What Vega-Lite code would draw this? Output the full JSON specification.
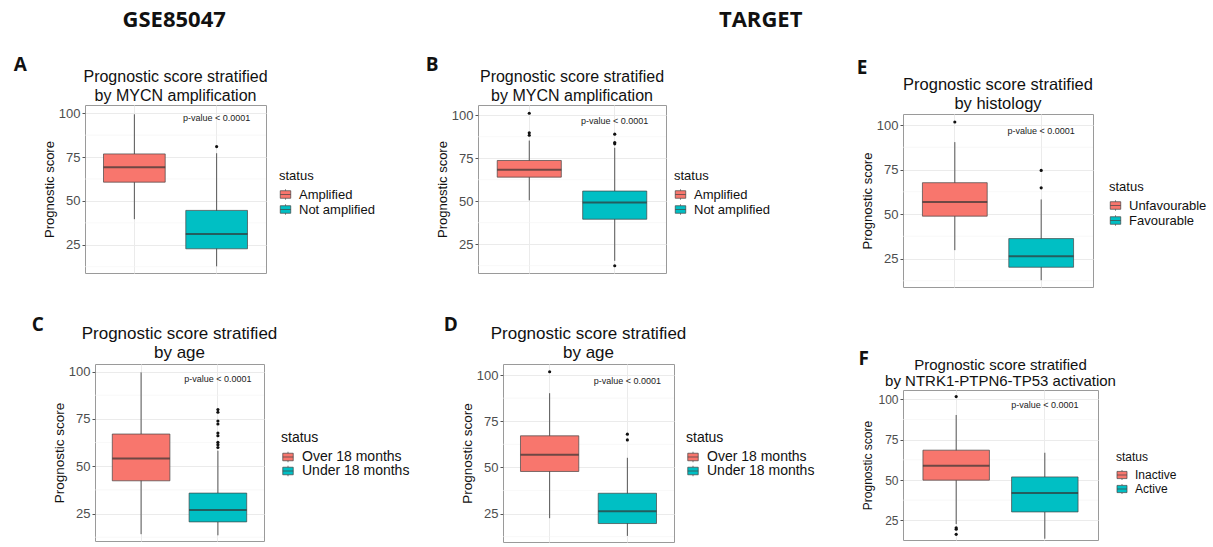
{
  "$schema": "https://vega.github.io/schema/vega-lite/v6.json",
  "padding": {"left": 13, "top": 8, "right": 2, "bottom": 0},
  "background": "white",
  "config": {
    "font": "Liberation Sans",
    "view": {"stroke": "#9a9a9a", "strokeWidth": 1},
    "axis": {"labelColor": "#4D4D4D", "labelFontSize": 13, "titleFontSize": 13, "titleFontWeight": "normal", "titleColor": "#111", "tickColor": "#555", "tickSize": 3, "domain": false, "gridColor": "#EBEBEB"},
    "title": {"fontSize": 16, "fontWeight": "normal", "color": "#111", "lineHeight": 19, "offset": 1},
    "legend": {"titleFontSize": 13, "titleFontWeight": "normal", "labelFontSize": 13, "titleColor": "#111", "labelColor": "#111", "symbolType": "M-1,-0.72H1V0.72H-1Z M-1,0H1 M0,-1V-0.72 M0,0.72V1", "symbolSize": 110, "symbolStrokeColor": "#444", "symbolStrokeWidth": 0.7, "rowPadding": 0, "titlePadding": 5, "labelOffset": 7}
  },
  "datasets": {
    "minor": [{"v": 12.5}, {"v": 37.5}, {"v": 62.5}, {"v": 87.5}],
    "blank": [{}],
    "A_box": [
      {"status": "Amplified", "lower": 39.6, "q1": 60.7, "median": 69.2, "q3": 76.8, "upper": 99.4},
      {"status": "Not amplified", "lower": 12.7, "q1": 22.7, "median": 31.1, "q3": 44.6, "upper": 77.2}
    ],
    "A_out": [{"status": "Not amplified", "score": 81.0}],
    "A_p": [{"status": "Not amplified", "y": 97.2, "label": "p-value < 0.0001"}],
    "B_box": [
      {"status": "Amplified", "lower": 50.5, "q1": 64.0, "median": 68.3, "q3": 73.7, "upper": 85.3},
      {"status": "Not amplified", "lower": 15.3, "q1": 39.5, "median": 49.2, "q3": 55.9, "upper": 81.1}
    ],
    "B_out": [
      {"status": "Amplified", "score": 101.2}, {"status": "Amplified", "score": 89.8}, {"status": "Amplified", "score": 88.4},
      {"status": "Not amplified", "score": 89.0}, {"status": "Not amplified", "score": 84.1}, {"status": "Not amplified", "score": 83.4}, {"status": "Not amplified", "score": 12.4}
    ],
    "B_p": [{"status": "Not amplified", "y": 96.5, "label": "p-value < 0.0001"}],
    "C_box": [
      {"status": "Over 18 months", "lower": 14.1, "q1": 42.3, "median": 54.1, "q3": 67.0, "upper": 99.6},
      {"status": "Under 18 months", "lower": 13.5, "q1": 20.6, "median": 26.9, "q3": 35.8, "upper": 58.2}
    ],
    "C_out": [
      {"status": "Under 18 months", "score": 79.9}, {"status": "Under 18 months", "score": 78.5}, {"status": "Under 18 months", "score": 73.9},
      {"status": "Under 18 months", "score": 72.3}, {"status": "Under 18 months", "score": 67.5}, {"status": "Under 18 months", "score": 66.1},
      {"status": "Under 18 months", "score": 62.6}, {"status": "Under 18 months", "score": 61.4}, {"status": "Under 18 months", "score": 59.9}
    ],
    "C_p": [{"status": "Under 18 months", "y": 96.1, "label": "p-value < 0.0001"}],
    "D_box": [
      {"status": "Over 18 months", "lower": 22.5, "q1": 47.8, "median": 56.8, "q3": 67.1, "upper": 90.2},
      {"status": "Under 18 months", "lower": 12.9, "q1": 19.6, "median": 26.3, "q3": 36.0, "upper": 55.2}
    ],
    "D_out": [{"status": "Over 18 months", "score": 101.8}, {"status": "Under 18 months", "score": 68.0}, {"status": "Under 18 months", "score": 64.9}],
    "D_p": [{"status": "Under 18 months", "y": 96.7, "label": "p-value < 0.0001"}],
    "E_box": [
      {"status": "Unfavourable", "lower": 29.7, "q1": 48.8, "median": 56.7, "q3": 67.6, "upper": 90.4},
      {"status": "Favourable", "lower": 12.8, "q1": 20.1, "median": 26.3, "q3": 36.2, "upper": 58.2}
    ],
    "E_out": [{"status": "Unfavourable", "score": 101.7}, {"status": "Favourable", "score": 74.5}, {"status": "Favourable", "score": 64.7}],
    "E_p": [{"status": "Favourable", "y": 96.6, "label": "p-value < 0.0001"}],
    "F_box": [
      {"status": "Inactive", "lower": 22.7, "q1": 49.9, "median": 58.8, "q3": 68.5, "upper": 90.3},
      {"status": "Active", "lower": 13.6, "q1": 30.2, "median": 42.0, "q3": 51.9, "upper": 66.9}
    ],
    "F_out": [{"status": "Inactive", "score": 101.7}, {"status": "Inactive", "score": 20.4}, {"status": "Inactive", "score": 19.5}, {"status": "Inactive", "score": 16.3}],
    "F_p": [{"status": "Active", "y": 96.5, "label": "p-value < 0.0001"}]
  },
  "resolve": {"scale": {"x": "independent", "y": "independent", "color": "independent"}},
  "spacing": 14,
  "hconcat": [
    {
      "title": {"text": "GSE85047", "font": "Open Sans", "fontSize": 22, "fontWeight": "bold", "anchor": "middle", "offset": 24, "lineHeight": 24, "dx": -38},
      "resolve": {"scale": {"x": "independent", "y": "independent", "color": "independent"}},
      "spacing": 41,
      "vconcat": [
        {
          "bounds": "flush", "spacing": 0,
          "resolve": {"scale": {"x": "independent", "y": "independent", "color": "independent"}},
          "hconcat": [
            {"width": 1, "height": 1, "view": {"stroke": null}, "data": {"name": "blank"}, "mark": {"type": "point", "opacity": 0}, "encoding": {}},
            {
              "title": {"text": "A", "font": "Open Sans", "fontSize": 19, "fontWeight": "bold", "anchor": "start", "offset": -6, "dx": -29, "lineHeight": 20},
              "resolve": {"scale": {"x": "independent", "y": "independent", "color": "independent"}},
              "vconcat": [
                {
                  "title": {"text": ["Prognostic score stratified", "by MYCN amplification"]},
                  "width": 181, "height": 168,
                  "layer": [
                    {"data": {"name": "minor"}, "mark": {"type": "rule", "color": "#F3F3F3", "strokeWidth": 0.6, "clip": true},
                     "encoding": {"y": {"field": "v", "type": "quantitative", "scale": {"domain": [8.9, 104.7], "nice": false, "zero": false}, "title": "Prognostic score",
                       "axis": {"values": [25, 50, 75, 100], "grid": true, "labelPadding": 2, "titlePadding": 2}}}},
                    {"data": {"name": "A_box"}, "mark": {"type": "rule", "color": "#555", "strokeWidth": 1},
                     "encoding": {"x": {"field": "status", "type": "nominal", "scale": {"domain": ["Amplified", "Not amplified"], "paddingInner": 0.25, "paddingOuter": 0.225},
                       "axis": {"labels": false, "ticks": false, "domain": false, "title": null, "grid": true, "bandPosition": 0.5}},
                       "y": {"field": "lower", "type": "quantitative", "scale": {"domain": [8.9, 104.7], "nice": false, "zero": false}, "title": "Prognostic score"}, "y2": {"field": "upper"}}},
                    {"data": {"name": "A_box"}, "mark": {"type": "bar", "stroke": "#444", "strokeWidth": 0.7},
                     "encoding": {"x": {"field": "status", "type": "nominal", "scale": {"domain": ["Amplified", "Not amplified"], "paddingInner": 0.25, "paddingOuter": 0.225}},
                       "y": {"field": "q1", "type": "quantitative", "scale": {"domain": [8.9, 104.7], "nice": false, "zero": false}, "title": "Prognostic score"}, "y2": {"field": "q3"},
                       "color": {"field": "status", "type": "nominal", "scale": {"domain": ["Amplified", "Not amplified"], "range": ["#F8766D", "#00BFC4"]},
                         "legend": {"title": "status", "orient": "none", "legendX": 194, "legendY": 65}}}},
                    {"data": {"name": "A_box"}, "mark": {"type": "tick", "color": "#333", "thickness": 2, "size": 61.7},
                     "encoding": {"x": {"field": "status", "type": "nominal", "scale": {"domain": ["Amplified", "Not amplified"], "paddingInner": 0.25, "paddingOuter": 0.225}},
                       "y": {"field": "median", "type": "quantitative", "scale": {"domain": [8.9, 104.7], "nice": false, "zero": false}, "title": "Prognostic score"}}},
                    {"data": {"name": "A_out"}, "mark": {"type": "circle", "color": "#111", "opacity": 1, "size": 10},
                     "encoding": {"x": {"field": "status", "type": "nominal", "scale": {"domain": ["Amplified", "Not amplified"], "paddingInner": 0.25, "paddingOuter": 0.225}},
                       "y": {"field": "score", "type": "quantitative", "scale": {"domain": [8.9, 104.7], "nice": false, "zero": false}, "title": "Prognostic score"}}},
                    {"data": {"name": "A_p"}, "mark": {"type": "text", "fontSize": 9, "color": "#222"},
                     "encoding": {"x": {"field": "status", "type": "nominal", "scale": {"domain": ["Amplified", "Not amplified"], "paddingInner": 0.25, "paddingOuter": 0.225}},
                       "y": {"field": "y", "type": "quantitative", "scale": {"domain": [8.9, 104.7], "nice": false, "zero": false}, "title": "Prognostic score"}, "text": {"field": "label"}}}
                  ]
                }
              ]
            }
          ]
        },
        {
          "bounds": "flush", "spacing": 10,
          "resolve": {"scale": {"x": "independent", "y": "independent", "color": "independent"}},
          "hconcat": [
            {"width": 1, "height": 1, "view": {"stroke": null}, "data": {"name": "blank"}, "mark": {"type": "point", "opacity": 0}, "encoding": {}},
            {
              "title": {"text": "C", "font": "Open Sans", "fontSize": 19, "fontWeight": "bold", "anchor": "start", "offset": -10, "dx": -20, "lineHeight": 20},
              "resolve": {"scale": {"x": "independent", "y": "independent", "color": "independent"}},
              "vconcat": [
                {
                  "title": {"text": ["Prognostic score stratified", "by age"], "fontSize": 17, "offset": 2},
                  "width": 169, "height": 177,
                  "layer": [
                    {"data": {"name": "minor"}, "mark": {"type": "rule", "color": "#F3F3F3", "strokeWidth": 0.6, "clip": true},
                     "encoding": {"y": {"field": "v", "type": "quantitative", "scale": {"domain": [10.5, 104.0], "nice": false, "zero": false}, "title": "Prognostic score",
                       "axis": {"values": [25, 50, 75, 100], "grid": true, "labelPadding": 2, "titlePadding": 2, "titleFontSize": 13.5}}}},
                    {"data": {"name": "C_box"}, "mark": {"type": "rule", "color": "#555", "strokeWidth": 1},
                     "encoding": {"x": {"field": "status", "type": "nominal", "scale": {"domain": ["Over 18 months", "Under 18 months"], "paddingInner": 0.25, "paddingOuter": 0.225},
                       "axis": {"labels": false, "ticks": false, "domain": false, "title": null, "grid": true, "bandPosition": 0.5}},
                       "y": {"field": "lower", "type": "quantitative", "scale": {"domain": [10.5, 104.0], "nice": false, "zero": false}, "title": "Prognostic score"}, "y2": {"field": "upper"}}},
                    {"data": {"name": "C_box"}, "mark": {"type": "bar", "stroke": "#444", "strokeWidth": 0.7},
                     "encoding": {"x": {"field": "status", "type": "nominal", "scale": {"domain": ["Over 18 months", "Under 18 months"], "paddingInner": 0.25, "paddingOuter": 0.225}},
                       "y": {"field": "q1", "type": "quantitative", "scale": {"domain": [10.5, 104.0], "nice": false, "zero": false}, "title": "Prognostic score"}, "y2": {"field": "q3"},
                       "color": {"field": "status", "type": "nominal", "scale": {"domain": ["Over 18 months", "Under 18 months"], "range": ["#F8766D", "#00BFC4"]},
                         "legend": {"title": "status", "orient": "none", "legendX": 186, "legendY": 67, "labelFontSize": 14, "titleFontSize": 14}}}},
                    {"data": {"name": "C_box"}, "mark": {"type": "tick", "color": "#333", "thickness": 2, "size": 57.6},
                     "encoding": {"x": {"field": "status", "type": "nominal", "scale": {"domain": ["Over 18 months", "Under 18 months"], "paddingInner": 0.25, "paddingOuter": 0.225}},
                       "y": {"field": "median", "type": "quantitative", "scale": {"domain": [10.5, 104.0], "nice": false, "zero": false}, "title": "Prognostic score"}}},
                    {"data": {"name": "C_out"}, "mark": {"type": "circle", "color": "#111", "opacity": 1, "size": 10},
                     "encoding": {"x": {"field": "status", "type": "nominal", "scale": {"domain": ["Over 18 months", "Under 18 months"], "paddingInner": 0.25, "paddingOuter": 0.225}},
                       "y": {"field": "score", "type": "quantitative", "scale": {"domain": [10.5, 104.0], "nice": false, "zero": false}, "title": "Prognostic score"}}},
                    {"data": {"name": "C_p"}, "mark": {"type": "text", "fontSize": 9, "color": "#222"},
                     "encoding": {"x": {"field": "status", "type": "nominal", "scale": {"domain": ["Over 18 months", "Under 18 months"], "paddingInner": 0.25, "paddingOuter": 0.225}},
                       "y": {"field": "y", "type": "quantitative", "scale": {"domain": [10.5, 104.0], "nice": false, "zero": false}, "title": "Prognostic score"}, "text": {"field": "label"}}}
                  ]
                }
              ]
            }
          ]
        }
      ]
    },
    {
      "title": {"text": "TARGET", "font": "Open Sans", "fontSize": 22, "fontWeight": "bold", "anchor": "middle", "offset": 24, "lineHeight": 24, "dx": -56},
      "resolve": {"scale": {"x": "independent", "y": "independent", "color": "independent"}},
      "spacing": 40,
      "hconcat": [
        {
          "resolve": {"scale": {"x": "independent", "y": "independent", "color": "independent"}},
          "spacing": 41,
          "vconcat": [
            {
              "bounds": "flush", "spacing": 0,
              "resolve": {"scale": {"x": "independent", "y": "independent", "color": "independent"}},
              "hconcat": [
                {"width": 1, "height": 1, "view": {"stroke": null}, "data": {"name": "blank"}, "mark": {"type": "point", "opacity": 0}, "encoding": {}},
                {
                  "title": {"text": "B", "font": "Open Sans", "fontSize": 19, "fontWeight": "bold", "anchor": "start", "offset": -6, "dx": -10, "lineHeight": 20},
                  "resolve": {"scale": {"x": "independent", "y": "independent", "color": "independent"}},
                  "vconcat": [
                    {
                      "title": {"text": ["Prognostic score stratified", "by MYCN amplification"]},
                      "width": 188, "height": 168,
                      "layer": [
                        {"data": {"name": "minor"}, "mark": {"type": "rule", "color": "#F3F3F3", "strokeWidth": 0.6, "clip": true},
                         "encoding": {"y": {"field": "v", "type": "quantitative", "scale": {"domain": [8.2, 106.0], "nice": false, "zero": false}, "title": "Prognostic score",
                           "axis": {"values": [25, 50, 75, 100], "grid": true, "labelPadding": 2, "titlePadding": 2}}}},
                        {"data": {"name": "B_box"}, "mark": {"type": "rule", "color": "#555", "strokeWidth": 1},
                         "encoding": {"x": {"field": "status", "type": "nominal", "scale": {"domain": ["Amplified", "Not amplified"], "paddingInner": 0.25, "paddingOuter": 0.225},
                           "axis": {"labels": false, "ticks": false, "domain": false, "title": null, "grid": true, "bandPosition": 0.5}},
                           "y": {"field": "lower", "type": "quantitative", "scale": {"domain": [8.2, 106.0], "nice": false, "zero": false}, "title": "Prognostic score"}, "y2": {"field": "upper"}}},
                        {"data": {"name": "B_box"}, "mark": {"type": "bar", "stroke": "#444", "strokeWidth": 0.7},
                         "encoding": {"x": {"field": "status", "type": "nominal", "scale": {"domain": ["Amplified", "Not amplified"], "paddingInner": 0.25, "paddingOuter": 0.225}},
                           "y": {"field": "q1", "type": "quantitative", "scale": {"domain": [8.2, 106.0], "nice": false, "zero": false}, "title": "Prognostic score"}, "y2": {"field": "q3"},
                           "color": {"field": "status", "type": "nominal", "scale": {"domain": ["Amplified", "Not amplified"], "range": ["#F8766D", "#00BFC4"]},
                             "legend": {"title": "status", "orient": "none", "legendX": 196, "legendY": 65}}}},
                        {"data": {"name": "B_box"}, "mark": {"type": "tick", "color": "#333", "thickness": 2, "size": 64.1},
                         "encoding": {"x": {"field": "status", "type": "nominal", "scale": {"domain": ["Amplified", "Not amplified"], "paddingInner": 0.25, "paddingOuter": 0.225}},
                           "y": {"field": "median", "type": "quantitative", "scale": {"domain": [8.2, 106.0], "nice": false, "zero": false}, "title": "Prognostic score"}}},
                        {"data": {"name": "B_out"}, "mark": {"type": "circle", "color": "#111", "opacity": 1, "size": 10},
                         "encoding": {"x": {"field": "status", "type": "nominal", "scale": {"domain": ["Amplified", "Not amplified"], "paddingInner": 0.25, "paddingOuter": 0.225}},
                           "y": {"field": "score", "type": "quantitative", "scale": {"domain": [8.2, 106.0], "nice": false, "zero": false}, "title": "Prognostic score"}}},
                        {"data": {"name": "B_p"}, "mark": {"type": "text", "fontSize": 9, "color": "#222"},
                         "encoding": {"x": {"field": "status", "type": "nominal", "scale": {"domain": ["Amplified", "Not amplified"], "paddingInner": 0.25, "paddingOuter": 0.225}},
                           "y": {"field": "y", "type": "quantitative", "scale": {"domain": [8.2, 106.0], "nice": false, "zero": false}, "title": "Prognostic score"}, "text": {"field": "label"}}}
                      ]
                    }
                  ]
                }
              ]
            },
            {
              "bounds": "flush", "spacing": 25,
              "resolve": {"scale": {"x": "independent", "y": "independent", "color": "independent"}},
              "hconcat": [
                {"width": 1, "height": 1, "view": {"stroke": null}, "data": {"name": "blank"}, "mark": {"type": "point", "opacity": 0}, "encoding": {}},
                {
                  "title": {"text": "D", "font": "Open Sans", "fontSize": 19, "fontWeight": "bold", "anchor": "start", "offset": -10, "dx": -16, "lineHeight": 20},
                  "resolve": {"scale": {"x": "independent", "y": "independent", "color": "independent"}},
                  "vconcat": [
                    {
                      "title": {"text": ["Prognostic score stratified", "by age"], "fontSize": 17, "offset": 2},
                      "width": 171, "height": 178,
                      "layer": [
                        {"data": {"name": "minor"}, "mark": {"type": "rule", "color": "#F3F3F3", "strokeWidth": 0.6, "clip": true},
                         "encoding": {"y": {"field": "v", "type": "quantitative", "scale": {"domain": [9.6, 106.0], "nice": false, "zero": false}, "title": "Prognostic score",
                           "axis": {"values": [25, 50, 75, 100], "grid": true, "labelPadding": 2, "titlePadding": 2, "titleFontSize": 13.5}}}},
                        {"data": {"name": "D_box"}, "mark": {"type": "rule", "color": "#555", "strokeWidth": 1},
                         "encoding": {"x": {"field": "status", "type": "nominal", "scale": {"domain": ["Over 18 months", "Under 18 months"], "paddingInner": 0.25, "paddingOuter": 0.225},
                           "axis": {"labels": false, "ticks": false, "domain": false, "title": null, "grid": true, "bandPosition": 0.5}},
                           "y": {"field": "lower", "type": "quantitative", "scale": {"domain": [9.6, 106.0], "nice": false, "zero": false}, "title": "Prognostic score"}, "y2": {"field": "upper"}}},
                        {"data": {"name": "D_box"}, "mark": {"type": "bar", "stroke": "#444", "strokeWidth": 0.7},
                         "encoding": {"x": {"field": "status", "type": "nominal", "scale": {"domain": ["Over 18 months", "Under 18 months"], "paddingInner": 0.25, "paddingOuter": 0.225}},
                           "y": {"field": "q1", "type": "quantitative", "scale": {"domain": [9.6, 106.0], "nice": false, "zero": false}, "title": "Prognostic score"}, "y2": {"field": "q3"},
                           "color": {"field": "status", "type": "nominal", "scale": {"domain": ["Over 18 months", "Under 18 months"], "range": ["#F8766D", "#00BFC4"]},
                             "legend": {"title": "status", "orient": "none", "legendX": 183, "legendY": 67, "labelFontSize": 14, "titleFontSize": 14}}}},
                        {"data": {"name": "D_box"}, "mark": {"type": "tick", "color": "#333", "thickness": 2, "size": 58.3},
                         "encoding": {"x": {"field": "status", "type": "nominal", "scale": {"domain": ["Over 18 months", "Under 18 months"], "paddingInner": 0.25, "paddingOuter": 0.225}},
                           "y": {"field": "median", "type": "quantitative", "scale": {"domain": [9.6, 106.0], "nice": false, "zero": false}, "title": "Prognostic score"}}},
                        {"data": {"name": "D_out"}, "mark": {"type": "circle", "color": "#111", "opacity": 1, "size": 10},
                         "encoding": {"x": {"field": "status", "type": "nominal", "scale": {"domain": ["Over 18 months", "Under 18 months"], "paddingInner": 0.25, "paddingOuter": 0.225}},
                           "y": {"field": "score", "type": "quantitative", "scale": {"domain": [9.6, 106.0], "nice": false, "zero": false}, "title": "Prognostic score"}}},
                        {"data": {"name": "D_p"}, "mark": {"type": "text", "fontSize": 9, "color": "#222"},
                         "encoding": {"x": {"field": "status", "type": "nominal", "scale": {"domain": ["Over 18 months", "Under 18 months"], "paddingInner": 0.25, "paddingOuter": 0.225}},
                           "y": {"field": "y", "type": "quantitative", "scale": {"domain": [9.6, 106.0], "nice": false, "zero": false}, "title": "Prognostic score"}, "text": {"field": "label"}}}
                      ]
                    }
                  ]
                }
              ]
            }
          ]
        },
        {
          "resolve": {"scale": {"x": "independent", "y": "independent", "color": "independent"}},
          "spacing": 61,
          "vconcat": [
            {
              "bounds": "flush", "spacing": 8,
              "resolve": {"scale": {"x": "independent", "y": "independent", "color": "independent"}},
              "vconcat": [
                {"width": 1, "height": 1, "view": {"stroke": null}, "data": {"name": "blank"}, "mark": {"type": "point", "opacity": 0}, "encoding": {}},
                {
                  "title": {"text": "E", "font": "Open Sans", "fontSize": 19, "fontWeight": "bold", "anchor": "start", "offset": -2, "dx": -4, "lineHeight": 20},
                  "resolve": {"scale": {"x": "independent", "y": "independent", "color": "independent"}},
                  "vconcat": [
                    {
                      "title": {"text": ["Prognostic score stratified", "by histology"], "fontSize": 16.5, "offset": 2},
                      "width": 190, "height": 173,
                      "layer": [
                        {"data": {"name": "minor"}, "mark": {"type": "rule", "color": "#F3F3F3", "strokeWidth": 0.6, "clip": true},
                         "encoding": {"y": {"field": "v", "type": "quantitative", "scale": {"domain": [9.0, 106.2], "nice": false, "zero": false}, "title": "Prognostic score",
                           "axis": {"values": [25, 50, 75, 100], "grid": true, "labelPadding": 2, "titlePadding": 2}}}},
                        {"data": {"name": "E_box"}, "mark": {"type": "rule", "color": "#555", "strokeWidth": 1},
                         "encoding": {"x": {"field": "status", "type": "nominal", "scale": {"domain": ["Unfavourable", "Favourable"], "paddingInner": 0.25, "paddingOuter": 0.225},
                           "axis": {"labels": false, "ticks": false, "domain": false, "title": null, "grid": true, "bandPosition": 0.5}},
                           "y": {"field": "lower", "type": "quantitative", "scale": {"domain": [9.0, 106.2], "nice": false, "zero": false}, "title": "Prognostic score"}, "y2": {"field": "upper"}}},
                        {"data": {"name": "E_box"}, "mark": {"type": "bar", "stroke": "#444", "strokeWidth": 0.7},
                         "encoding": {"x": {"field": "status", "type": "nominal", "scale": {"domain": ["Unfavourable", "Favourable"], "paddingInner": 0.25, "paddingOuter": 0.225}},
                           "y": {"field": "q1", "type": "quantitative", "scale": {"domain": [9.0, 106.2], "nice": false, "zero": false}, "title": "Prognostic score"}, "y2": {"field": "q3"},
                           "color": {"field": "status", "type": "nominal", "scale": {"domain": ["Unfavourable", "Favourable"], "range": ["#F8766D", "#00BFC4"]},
                             "legend": {"title": "status", "orient": "none", "legendX": 206, "legendY": 67}}}},
                        {"data": {"name": "E_box"}, "mark": {"type": "tick", "color": "#333", "thickness": 2, "size": 64.8},
                         "encoding": {"x": {"field": "status", "type": "nominal", "scale": {"domain": ["Unfavourable", "Favourable"], "paddingInner": 0.25, "paddingOuter": 0.225}},
                           "y": {"field": "median", "type": "quantitative", "scale": {"domain": [9.0, 106.2], "nice": false, "zero": false}, "title": "Prognostic score"}}},
                        {"data": {"name": "E_out"}, "mark": {"type": "circle", "color": "#111", "opacity": 1, "size": 10},
                         "encoding": {"x": {"field": "status", "type": "nominal", "scale": {"domain": ["Unfavourable", "Favourable"], "paddingInner": 0.25, "paddingOuter": 0.225}},
                           "y": {"field": "score", "type": "quantitative", "scale": {"domain": [9.0, 106.2], "nice": false, "zero": false}, "title": "Prognostic score"}}},
                        {"data": {"name": "E_p"}, "mark": {"type": "text", "fontSize": 9, "color": "#222"},
                         "encoding": {"x": {"field": "status", "type": "nominal", "scale": {"domain": ["Unfavourable", "Favourable"], "paddingInner": 0.25, "paddingOuter": 0.225}},
                           "y": {"field": "y", "type": "quantitative", "scale": {"domain": [9.0, 106.2], "nice": false, "zero": false}, "title": "Prognostic score"}, "text": {"field": "label"}}}
                      ]
                    }
                  ]
                }
              ]
            },
            {
              "title": {"text": "F", "font": "Open Sans", "fontSize": 19, "fontWeight": "bold", "anchor": "start", "offset": -11, "dx": -3, "lineHeight": 20},
              "resolve": {"scale": {"x": "independent", "y": "independent", "color": "independent"}},
              "vconcat": [
                {
                  "title": {"text": ["Prognostic score stratified", "by NTRK1-PTPN6-TP53 activation"], "fontSize": 15, "lineHeight": 16, "offset": 1},
                  "width": 195, "height": 150,
                  "layer": [
                    {"data": {"name": "minor"}, "mark": {"type": "rule", "color": "#F3F3F3", "strokeWidth": 0.6, "clip": true},
                     "encoding": {"y": {"field": "v", "type": "quantitative", "scale": {"domain": [12.8, 105.8], "nice": false, "zero": false}, "title": "Prognostic score",
                       "axis": {"values": [25, 50, 75, 100], "grid": true, "labelPadding": 2, "titlePadding": 3, "labelFontSize": 12, "titleFontSize": 12}}}},
                    {"data": {"name": "F_box"}, "mark": {"type": "rule", "color": "#555", "strokeWidth": 1},
                     "encoding": {"x": {"field": "status", "type": "nominal", "scale": {"domain": ["Inactive", "Active"], "paddingInner": 0.25, "paddingOuter": 0.225},
                       "axis": {"labels": false, "ticks": false, "domain": false, "title": null, "grid": true, "bandPosition": 0.5}},
                       "y": {"field": "lower", "type": "quantitative", "scale": {"domain": [12.8, 105.8], "nice": false, "zero": false}, "title": "Prognostic score"}, "y2": {"field": "upper"}}},
                    {"data": {"name": "F_box"}, "mark": {"type": "bar", "stroke": "#444", "strokeWidth": 0.7},
                     "encoding": {"x": {"field": "status", "type": "nominal", "scale": {"domain": ["Inactive", "Active"], "paddingInner": 0.25, "paddingOuter": 0.225}},
                       "y": {"field": "q1", "type": "quantitative", "scale": {"domain": [12.8, 105.8], "nice": false, "zero": false}, "title": "Prognostic score"}, "y2": {"field": "q3"},
                       "color": {"field": "status", "type": "nominal", "scale": {"domain": ["Inactive", "Active"], "range": ["#F8766D", "#00BFC4"]},
                         "legend": {"title": "status", "orient": "none", "legendX": 213, "legendY": 62, "labelFontSize": 12, "titleFontSize": 12, "symbolSize": 100}}}},
                    {"data": {"name": "F_box"}, "mark": {"type": "tick", "color": "#333", "thickness": 2, "size": 66.5},
                     "encoding": {"x": {"field": "status", "type": "nominal", "scale": {"domain": ["Inactive", "Active"], "paddingInner": 0.25, "paddingOuter": 0.225}},
                       "y": {"field": "median", "type": "quantitative", "scale": {"domain": [12.8, 105.8], "nice": false, "zero": false}, "title": "Prognostic score"}}},
                    {"data": {"name": "F_out"}, "mark": {"type": "circle", "color": "#111", "opacity": 1, "size": 10},
                     "encoding": {"x": {"field": "status", "type": "nominal", "scale": {"domain": ["Inactive", "Active"], "paddingInner": 0.25, "paddingOuter": 0.225}},
                       "y": {"field": "score", "type": "quantitative", "scale": {"domain": [12.8, 105.8], "nice": false, "zero": false}, "title": "Prognostic score"}}},
                    {"data": {"name": "F_p"}, "mark": {"type": "text", "fontSize": 9, "color": "#222"},
                     "encoding": {"x": {"field": "status", "type": "nominal", "scale": {"domain": ["Inactive", "Active"], "paddingInner": 0.25, "paddingOuter": 0.225}},
                       "y": {"field": "y", "type": "quantitative", "scale": {"domain": [12.8, 105.8], "nice": false, "zero": false}, "title": "Prognostic score"}, "text": {"field": "label"}}}
                  ]
                }
              ]
            }
          ]
        }
      ]
    }
  ]
}
